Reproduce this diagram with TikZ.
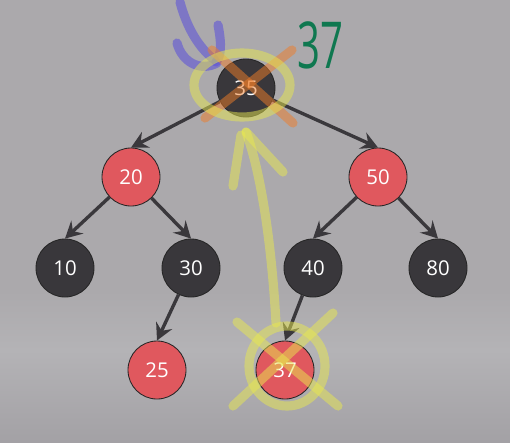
\documentclass[tikz,border=0pt]{standalone}
\usepackage{fontspec}
\usepackage{graphicx}
\setmainfont{Open Sans}
\usetikzlibrary{arrows.meta}
\definecolor{bggray}{RGB}{171,169,172}
\definecolor{bglight}{RGB}{180,179,182}
\definecolor{bgdark}{RGB}{163,161,165}
\definecolor{nodeblack}{RGB}{57,55,59}
\definecolor{nodered}{RGB}{224,88,94}
\definecolor{edgegray}{RGB}{58,56,60}
\definecolor{hlyellow}{RGB}{232,232,80}
\definecolor{hlorange}{RGB}{240,125,40}
\definecolor{penblue}{RGB}{95,85,215}
\definecolor{pengreen}{RGB}{15,120,80}

\begin{document}
\begin{tikzpicture}[x=0.025cm,y=-0.025cm,
    rbnode/.style={circle,draw=black!85,line width=0.6pt,minimum size=1.45cm,
      inner sep=0pt,text=white,font=\fontsize{14.5}{16}\selectfont},
    blacknode/.style={rbnode,fill=nodeblack},
    rednode/.style={rbnode,fill=nodered},
    treeedge/.style={draw=edgegray,line width=2.4pt,
      -{Stealth[length=0.42cm,width=0.44cm,inset=0.15cm]}},
    marker/.style={line width=6.5pt,line cap=round,line join=round,opacity=0.5}]
  % background, lighter band low in the picture
  \useasboundingbox (0,0) rectangle (510,442);
  \fill[bggray] (0,0) rectangle (510,442);
  \shade[top color=bggray,bottom color=bglight] (0,290) rectangle (510,350);
  \shade[top color=bglight,bottom color=bgdark] (0,350) rectangle (510,442);

  % tree nodes (pixel coordinates of the screenshot)
  \node[blacknode] (n35) at (246,88) {35};
  \node[rednode]   (n20) at (131,177) {20};
  \node[rednode]   (n50) at (378,177) {50};
  \node[blacknode] (n10) at (65,268) {10};
  \node[blacknode] (n30) at (191,268) {30};
  \node[blacknode] (n40) at (313,268) {40};
  \node[blacknode] (n80) at (438,268) {80};
  \node[rednode]   (n25) at (157,370) {25};
  \node[rednode]   (n37) at (285,370) {37};

  % edges parent -> child
  \foreach \p/\c in {n35/n20, n35/n50, n20/n10, n20/n30, n50/n40, n50/n80, n30/n25, n40/n37} {
    \draw[treeedge] (\p) -- (\c.north);
  }

  % hand drawn notes on top
  % blue pen strokes
  \draw[marker,penblue,opacity=0.6] (180,2) .. controls (186,25) and (198,48) .. (215,60);
  \draw[marker,penblue,opacity=0.6] (177,43) .. controls (182,62) and (200,72) .. (217,63);
  \draw[marker,penblue,opacity=0.6] (218,25) .. controls (222,45) and (221,56) .. (216,62);
  % orange cross and yellow ring on 35
  \draw[marker,hlorange] (212,50) -- (293,123);
  \draw[marker,hlorange] (292,50) -- (205,118);
  \draw[marker,hlyellow] (242,85) ellipse [x radius=48,y radius=32];
  \node[text=pengreen,font=\fontsize{46}{46}\selectfont] (new37) at (320,45) {\scalebox{0.62}[1]{37}};
  % yellow arrow from 37 up to 35
  \draw[marker,hlyellow] (276,323) .. controls (272,250) and (262,175) .. (246,132);
  \draw[marker,hlyellow] (233,186) -- (241,135);
  \draw[marker,hlyellow] (283,172) -- (246,132);
  % yellow ring and cross on 37
  \draw[marker,hlyellow] (287,366) ellipse [x radius=38,y radius=40];
  \draw[marker,hlyellow] (237,322) -- (338,406);
  \draw[marker,hlyellow] (333,313) -- (233,406);
\end{tikzpicture}
\end{document}
